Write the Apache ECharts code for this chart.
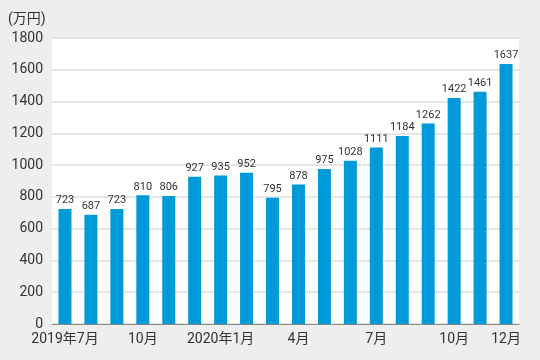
<!DOCTYPE html>
<html>
<head>
<meta charset="utf-8">
<script src="https://cdn.jsdelivr.net/npm/echarts@6/dist/echarts.min.js"></script>
<style>html,body{margin:0;padding:0;background:#eeeeee;}#c{width:540px;height:360px;}</style>
</head>
<body>
<div id="c"></div>
<script>
const months = ['2019年7月','2019年8月','2019年9月','2019年10月','2019年11月','2019年12月','2020年1月','2020年2月','2020年3月','2020年4月','2020年5月','2020年6月','2020年7月','2020年8月','2020年9月','2020年10月','2020年11月','2020年12月'];
const tickLabels = ['2019年7月','','','10月','','','2020年1月','','','4月','','','7月','','','10月','','12月'];
const values = [723,687,723,810,806,927,935,952,795,878,975,1028,1111,1184,1262,1422,1461,1637];
const unitLabel = '(万円)';
const FONT = "Roboto,'Noto Sans CJK JP',sans-serif";
const chart = echarts.init(document.getElementById('c'));
chart.setOption({
  backgroundColor: '#eeeeee',
  animation: false,
  grid: {left: 52, right: 21, top: 38, bottom: 36, show: true, backgroundColor: '#ffffff', borderWidth: 0},
  graphic: [{type: 'text', left: 8, top: 13, style: {text: unitLabel, fill: '#333', font: "14px " + FONT}}],
  xAxis: {
    type: 'category', data: months,
    axisLine: {lineStyle: {color: '#888', width: 1}},
    axisTick: {show: false},
    axisLabel: {interval: 0, color: '#333', fontSize: 14, fontFamily: FONT, margin: 9,
      formatter: (v, i) => tickLabels[i]}
  },
  yAxis: {
    type: 'value', min: 0, max: 1800, interval: 200,
    axisLine: {show: false}, axisTick: {show: false},
    axisLabel: {color: '#333', fontSize: 14, fontFamily: FONT, margin: 9, formatter: v => String(v)},
    splitLine: {lineStyle: {color: '#dddddd', width: 1.5}}
  },
  series: [{
    type: 'bar', data: values, barWidth: 13,
    itemStyle: {color: '#009ad9'},
    label: {show: true, position: 'top', distance: 3, color: '#333', fontSize: 11, fontFamily: FONT}
  }]
});
</script>
</body>
</html>
